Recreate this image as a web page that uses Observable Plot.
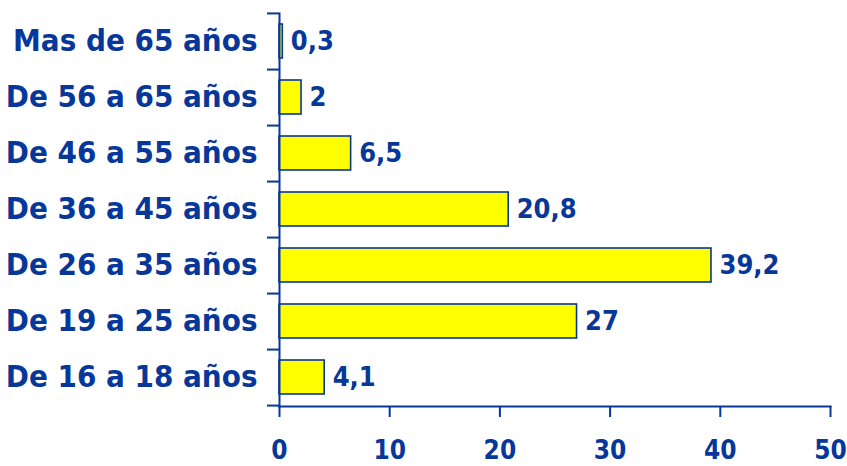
<!DOCTYPE html>
<html>
<head>
<meta charset="utf-8">
<script src="https://cdn.jsdelivr.net/npm/d3@7"></script>
<script src="https://cdn.jsdelivr.net/npm/@observablehq/plot@0.6"></script>
<style>
  html, body { margin: 0; padding: 0; background: #fff; }
  #chart svg { display: block; }
</style>
</head>
<body>
<div id="chart"></div>
<script>
const categories = ["Mas de 65 años", "De 56 a 65 años", "De 46 a 55 años", "De 36 a 45 años", "De 26 a 35 años", "De 19 a 25 años", "De 16 a 18 años"];
const values = [0.3, 2, 6.5, 20.8, 39.2, 27, 4.1];
const xTicks = [0, 10, 20, 30, 40, 50];

const data = categories.map((c, i) => ({category: c, value: values[i]}));
const blue = "#063799";
const font = "'DejaVu Sans Condensed', 'Liberation Sans Narrow', sans-serif";
const fmt = v => String(v).replace(".", ",");

const chart = Plot.plot({
  width: 847,
  height: 466,
  marginLeft: 279,
  marginRight: 17,
  marginTop: 13,
  marginBottom: 60,
  style: {fontFamily: font, color: blue, background: "white", fontStretch: "condensed"},
  x: {domain: [0, 50], label: null},
  y: {domain: categories, paddingInner: 0.39, paddingOuter: 0.195, label: null},
  marks: [
    Plot.barX(data, {x: "value", y: "category", fill: "#ffff00", stroke: blue, strokeWidth: 1.6}),
    Plot.text(data, {x: "value", y: "category", text: d => fmt(d.value), textAnchor: "start", dx: 8, fill: blue, fontSize: 27, fontWeight: "bold"}),
    // x axis
    Plot.frame({anchor: "bottom", stroke: blue, strokeWidth: 2}),
    Plot.axisX({ticks: xTicks, tickSize: 11, tickPadding: 23, tickFormat: d => String(d), label: null, stroke: blue, strokeWidth: 2, fill: blue, fontSize: 26, fontWeight: "bold"}),
    // y axis line
    Plot.frame({anchor: "left", stroke: blue, strokeWidth: 2}),
    // y labels
    Plot.axisY({tickSize: 0, tickPadding: 22, label: null, fill: blue, fontSize: 31, fontWeight: "bold"}),
    // boundary ticks
    Plot.axisY({tickSize: 12, text: null, label: null, dy: 28.07, stroke: blue, strokeWidth: 2}),
    Plot.axisY({ticks: [categories[0]], tickSize: 12, text: null, label: null, dy: -28.07, stroke: blue, strokeWidth: 2})
  ]
});
document.getElementById("chart").appendChild(chart);
</script>
</body>
</html>
